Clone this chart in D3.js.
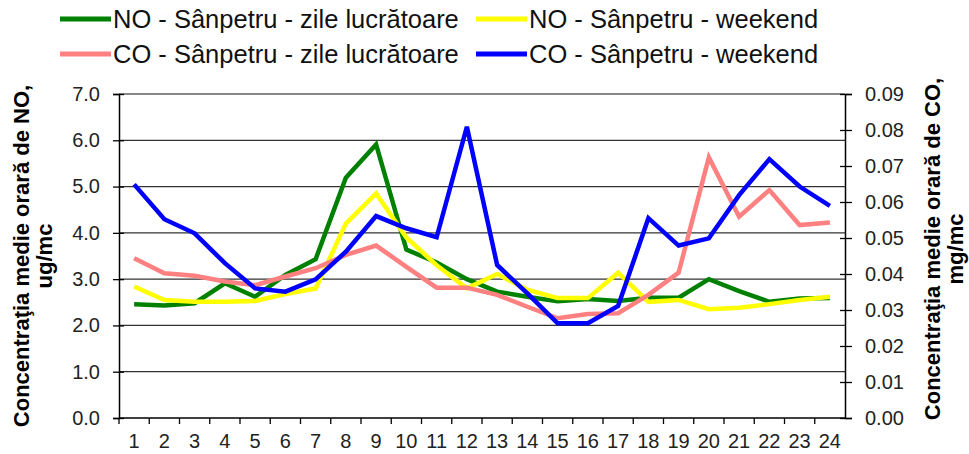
<!DOCTYPE html>
<html>
<head>
<meta charset="utf-8">
<script src="https://cdn.jsdelivr.net/npm/d3@7"></script>
<style>
  body { margin: 0; background: #fff; }
  svg { display: block; font-family: "Liberation Sans", Arial, sans-serif; }
</style>
</head>
<body>
<script>
// hours of the day (categories on the x axis)
const hours = ["1","2","3","4","5","6","7","8","9","10","11","12","13","14","15","16","17","18","19","20","21","22","23","24"]

// NO, ug/mc (left axis)
const noWork = [2.46, 2.43, 2.48, 2.91, 2.62, 3.09, 3.43, 5.19, 5.91, 3.64, 3.36, 3.0, 2.73, 2.62, 2.52, 2.57, 2.53, 2.6, 2.6, 3.0, 2.74, 2.51, 2.58, 2.59]
const noWeekend = [2.84, 2.55, 2.51, 2.51, 2.53, 2.68, 2.8, 4.2, 4.85, 3.9, 3.3, 2.8, 3.11, 2.77, 2.59, 2.59, 3.14, 2.51, 2.55, 2.35, 2.38, 2.46, 2.55, 2.62]

// CO, mg/mc (right axis)
const coWork = [0.0444, 0.0402, 0.0395, 0.0379, 0.0369, 0.0393, 0.0416, 0.0453, 0.0479, 0.042, 0.0362, 0.0362, 0.0342, 0.0309, 0.0277, 0.0289, 0.0291, 0.0342, 0.0404, 0.0724, 0.0559, 0.0633, 0.0536, 0.0543]
const coWeekend = [0.0649, 0.0552, 0.0513, 0.043, 0.036, 0.0351, 0.0385, 0.0462, 0.0561, 0.0527, 0.0502, 0.0809, 0.0425, 0.0346, 0.0263, 0.0263, 0.0311, 0.0555, 0.0479, 0.0499, 0.0619, 0.0719, 0.0643, 0.0589]

const leftTicks = [0, 1, 2, 3, 4, 5, 6, 7]
const rightTicks = [0, 0.01, 0.02, 0.03, 0.04, 0.05, 0.06, 0.07, 0.08, 0.09]

const series = [
    { name: "NO - Sânpetru - zile lucrătoare", values: noWork, axis: "left", color: "#008000" },
    { name: "NO - Sânpetru - weekend", values: noWeekend, axis: "left", color: "#ffff00" },
    { name: "CO - Sânpetru - zile lucrătoare", values: coWork, axis: "right", color: "#ff8080" },
    { name: "CO - Sânpetru - weekend", values: coWeekend, axis: "right", color: "#0000ff" },
]

const width = 969
const height = 454
const plot = { left: 119, right: 845, top: 94, bottom: 418 }

const svg = d3.select("body").append("svg")
    .attr("width", width)
    .attr("height", height)

let x = d3.scaleBand().domain(hours).range([plot.left, plot.right])
let yLeft = d3.scaleLinear().domain([0, 7]).range([plot.bottom, plot.top])
let yRight = d3.scaleLinear().domain([0, 0.09]).range([plot.bottom, plot.top])

// horizontal gridlines
svg.append("g").selectAll("line")
    .data(leftTicks.filter(d => d > 0))
    .enter().append("line")
    .attr("x1", plot.left).attr("x2", plot.right)
    .attr("y1", d => yLeft(d)).attr("y2", d => yLeft(d))
    .attr("stroke", d => d == 7 ? "#888" : "#333")
    .attr("stroke-width", d => d == 7 ? 2 : 1.3)

// left axis
let leftAxis = svg.append("g")
    .attr("transform", "translate(" + plot.left + ",0)")
    .call(d3.axisLeft(yLeft).tickValues(leftTicks).tickFormat(d3.format(".1f")).tickSize(6).tickPadding(13))
leftAxis.selectAll("text").attr("font-size", 20).attr("fill", "#222")
    .attr("font-family", "Liberation Sans, Arial, sans-serif")

// right axis
let rightAxis = svg.append("g")
    .attr("transform", "translate(" + plot.right + ",0)")
    .call(d3.axisRight(yRight).tickValues(rightTicks).tickFormat(d3.format(".2f")).tickSize(7).tickPadding(13))
rightAxis.selectAll("text").attr("font-size", 20).attr("fill", "#222")
    .attr("font-family", "Liberation Sans, Arial, sans-serif")
rightAxis.selectAll(".tick line").attr("x1", -5)

// bottom axis: ticks at band boundaries, labels in band centres
let bottomAxis = svg.append("g")
    .attr("transform", "translate(0," + plot.bottom + ")")
    .call(d3.axisBottom(x).tickSize(0).tickPadding(16))
bottomAxis.selectAll("text").attr("font-size", 20).attr("fill", "#222")
    .attr("font-family", "Liberation Sans, Arial, sans-serif")
bottomAxis.selectAll(".domain").remove()
bottomAxis.append("g").selectAll("line")
    .data(hours)
    .enter().append("line")
    .attr("x1", d => x(d)).attr("x2", d => x(d))
    .attr("y1", 0).attr("y2", 6)
    .attr("stroke", "#000").attr("stroke-width", 1.3)
bottomAxis.append("line")
    .attr("x1", plot.left).attr("x2", plot.right)
    .attr("stroke", "#000").attr("stroke-width", 1.5)

svg.selectAll(".domain").attr("stroke", "#000").attr("stroke-width", 1.5)
svg.selectAll(".tick line").attr("stroke", "#000").attr("stroke-width", 1.3)
leftAxis.selectAll(".tick line").attr("x2", -6).attr("x1", 5)

// lines
series.forEach(s => {
    let y = s.axis == "left" ? yLeft : yRight
    let line = d3.line()
        .x((d, i) => x(hours[i]) + x.bandwidth() / 2)
        .y(d => y(d))
    svg.append("path")
        .datum(s.values)
        .attr("d", line)
        .attr("fill", "none")
        .attr("stroke", s.color)
        .attr("stroke-width", 4.5)
        .attr("stroke-linejoin", "miter")
})

// legend, two columns by two rows
let legendPos = [[60, 19], [476, 19], [60, 54], [476, 54]]
let legend = svg.append("g").selectAll("g")
    .data(series)
    .enter().append("g")
    .attr("transform", (d, i) => "translate(" + legendPos[i][0] + "," + legendPos[i][1] + ")")
legend.append("line")
    .attr("x1", 0).attr("x2", 51)
    .attr("stroke", d => d.color)
    .attr("stroke-width", 5)
legend.append("text")
    .attr("x", 53)
    .attr("y", 9)
    .attr("font-size", 25.5)
    .attr("fill", "#111")
    .text(d => d.name)

// axis titles
function axisTitle(cx, cy, lines, gap) {
    let t = svg.append("text")
        .attr("transform", "translate(" + cx + "," + cy + ") rotate(-90)")
        .attr("text-anchor", "middle")
        .attr("font-weight", "bold")
        .attr("font-size", 22)
        .attr("fill", "#000")
    lines.forEach((l, i) => {
        t.append("tspan").attr("x", 0).attr("y", i * gap).text(l)
    })
}
axisTitle(29, 256, ["Concentraţia medie orară de NO,", "ug/mc"], 23)
axisTitle(940, 249, ["Concentraţia medie orară de CO,", "mg/mc"], 23)
</script>
</body>
</html>
